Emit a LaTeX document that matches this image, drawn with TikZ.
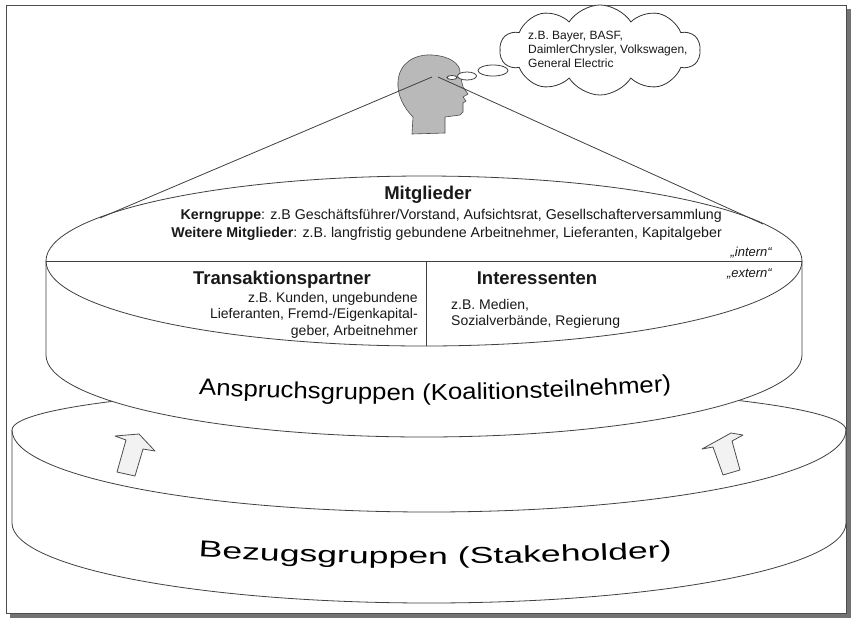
\documentclass[tikz,border=0pt]{standalone}
\usepackage{fontspec}
\setmainfont{Liberation Sans}
\newfontfamily\widefont[FakeStretch=1.55]{Liberation Sans}
\newfontfamily\midfont[FakeStretch=1.12]{Liberation Sans}
\usetikzlibrary{shapes.symbols,decorations.text}
\newcommand{\hdsize}{\fontsize{18.5}{22}\selectfont\bfseries}
\newcommand{\smsize}{\fontsize{14.2}{18}\selectfont}
\newcommand{\trsize}{\fontsize{14}{16.5}\selectfont}
\newcommand{\xssize}{\fontsize{12}{14}\selectfont}

\tikzset{
  rim/.style={draw=black!75, line width=0.8pt, fill=white},
  edge/.style={draw=black!75, line width=0.8pt},
  lbl/.style={inner sep=0pt, text=black!90},
  upblock/.style={draw=black!70, line width=0.8pt, fill=gray!10, line join=round},
}

\begin{document}
\begin{tikzpicture}[x=1pt,y=-1pt]
   \useasboundingbox (0,0) rectangle (852,619);
   % frame with shadow
   \fill[black!55] (10,9) rectangle (851,618);
   \draw[black!70,line width=0.8pt,fill=white] (6,5) rectangle (846,613);
   % lower cylinder
   \draw[rim] (12,430) -- (12,523) arc[start angle=180,end angle=0,x radius=417,y radius=80]
      -- (846,430) arc[start angle=0,end angle=-180,x radius=417,y radius=44] -- cycle;
   \draw[edge] (12,430) arc[start angle=180,end angle=0,x radius=417,y radius=82];
   \filldraw[upblock]
    (139,434) -- (155,451) -- (143,449) -- (135,476) -- (117,472) -- (126,440) -- (115,436) -- cycle;
   \filldraw[upblock]
    (731,433) -- (743,435) -- (732,441) -- (740,470) -- (723,475) -- (713,447) -- (702,449) -- cycle;
   % upper cylinder
   \draw[rim] (46,261) -- (46,355) arc[start angle=180,end angle=0,x radius=378,y radius=82]
      -- (802,261) arc[start angle=0,end angle=-180,x radius=378,y radius=85] -- cycle;
   \draw[edge] (46,261) arc[start angle=180,end angle=0,x radius=378,y radius=85];
   \draw[edge] (46,261) -- (802,261);
   \draw[edge] (426,261) -- (426,346);
   % head and view lines
   \coordinate (eyeL) at (432,77);
   \coordinate (eyeR) at (438,77);
   \coordinate (tanL) at (100,218);
   \coordinate (tanR) at (763,224);
   \filldraw[draw=black!70,fill=gray!55,line width=0.6pt]
    (412,134) -- (413,117) .. controls (404,108) and (397,95) .. (398,82)
    .. controls (399,62) and (416,54) .. (432,55) .. controls (450,56) and (460,64) .. (460,72)
    -- (462,83) -- (463,87) -- (468,94) -- (463,97) -- (466,101) -- (463,103) -- (463,112)
    -- (460,115) -- (445,117) -- (445,133) -- cycle;
   \draw[edge] (eyeL) -- (tanL);
   \draw[edge] (eyeR) -- (tanR);
   \draw[edge,fill=white] (452,77.5) ellipse[x radius=5,y radius=2];
   \draw[edge,fill=white] (467,76) ellipse[x radius=9.5,y radius=4];
   \draw[edge,fill=white] (493,70.5) ellipse[x radius=15,y radius=5.5];
   \node[cloud,cloud puffs=10,cloud puff arc=115,cloud ignores aspect,draw=black!80,line width=0.8pt,
     fill=white,minimum width=200pt,minimum height=90pt,inner sep=0pt] (wolke) at (600,50) {};
   \node[lbl,anchor=north west,align=left,font=\xssize] (firmen) at (528,30.5)
    {z.B. Bayer, BASF,\\DaimlerChrysler, Volkswagen,\\General Electric};
   % labels
   \node[lbl,anchor=base,font=\hdsize] (mitglieder) at (428,199) {Mitglieder};
   \node[lbl,anchor=north east,align=right,font=\smsize] (kern) at (722,209.5)
    {\textbf{Kerngruppe}: z.B Geschäftsführer/Vorstand, Aufsichtsrat, Gesellschafterversammlung\\
     \textbf{Weitere Mitglieder}: z.B. langfristig gebundene Arbeitnehmer, Lieferanten, Kapitalgeber};
   \node[lbl,anchor=base east,font=\fontsize{13}{15}\selectfont\itshape] (intern) at (772,256) {„intern“};
   \node[lbl,anchor=base east,font=\fontsize{13}{15}\selectfont\itshape] (extern) at (772,277) {„extern“};
   \node[lbl,anchor=base,font=\hdsize] (transak) at (282,284) {Transaktionspartner};
   \node[lbl,anchor=north east,align=right,font=\trsize] (transaktxt) at (418,292)
    {z.B. Kunden, ungebundene\\Lieferanten, Fremd-/Eigenkapital-\\geber, Arbeitnehmer};
   \node[lbl,anchor=base,font=\hdsize] (interess) at (537,284) {Interessenten};
   \node[lbl,anchor=north west,align=left,font=\trsize] (interesstxt) at (451,299)
    {z.B. Medien,\\Sozialverbände, Regierung};
   \path[decorate,decoration={text along path,text align=center,
     text={|\midfont\fontsize{23}{28}\selectfont|Anspruchsgruppen (Koalitionsteilnehmer)}}]
    (170,393) .. controls (345,403) and (520,403) .. (700,389);
   \path[decorate,decoration={text along path,text align=center,
     text={|\widefont\fontsize{23}{28}\selectfont|Bezugsgruppen (Stakeholder)}}]
    (170,555) .. controls (340,567) and (520,567) .. (700,555);
\end{tikzpicture}
\end{document}
